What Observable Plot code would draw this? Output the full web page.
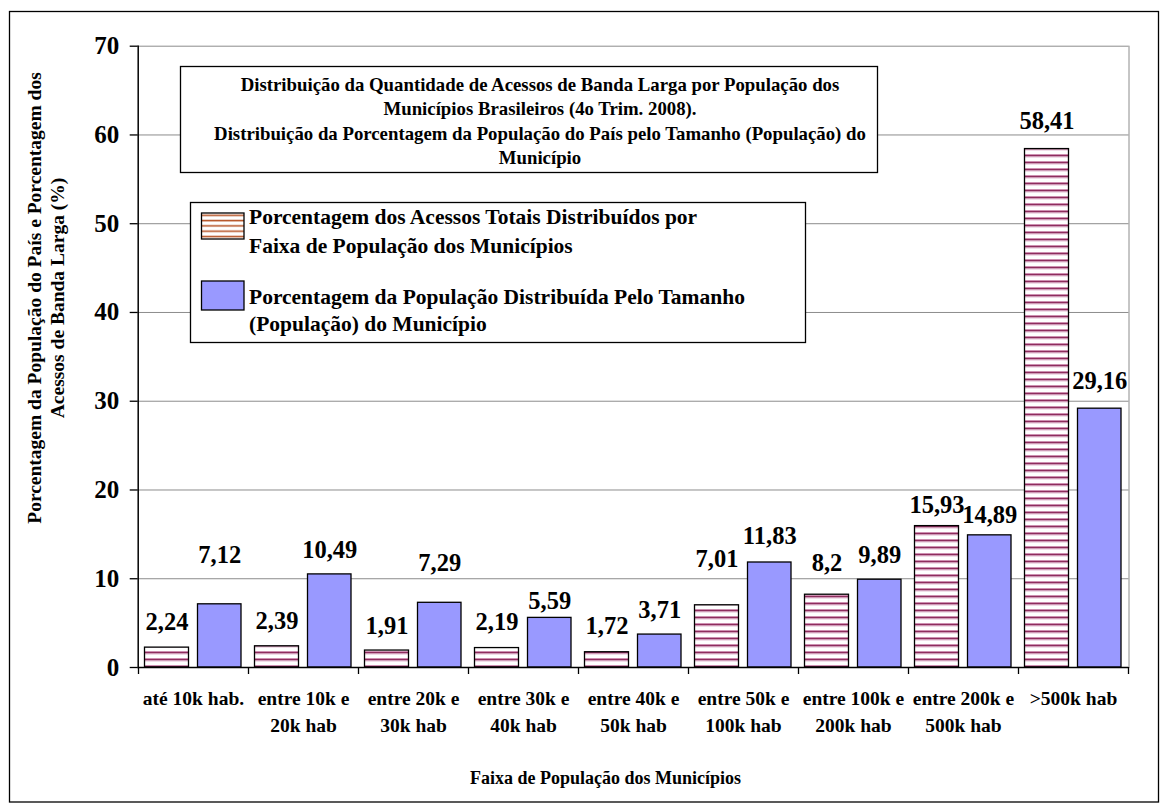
<!DOCTYPE html>
<html>
<head>
<meta charset="utf-8">
<script src="https://cdn.jsdelivr.net/npm/d3@7"></script>
<script src="https://cdn.jsdelivr.net/npm/@observablehq/plot@0.6"></script>
<style>
  body { margin: 0; background: #fff; }
  #chart { position: relative; width: 1160px; height: 803px; }
  #chart svg text { font-family: "Liberation Serif", "Times New Roman", serif; font-weight: bold; }
</style>
</head>
<body>
<div id="chart"></div>
<script>
// ---- data ----
const categories = [
  "até 10k hab.", "entre 10k e 20k hab", "entre 20k e 30k hab", "entre 30k e 40k hab",
  "entre 40k e 50k hab", "entre 50k e 100k hab", "entre 100k e 200k hab",
  "entre 200k e 500k hab", ">500k hab"
];
const categoryLabels = [
  "até 10k hab.", "entre 10k e\n20k hab", "entre 20k e\n30k hab", "entre 30k e\n40k hab",
  "entre 40k e\n50k hab", "entre 50k e\n100k hab", "entre 100k e\n200k hab",
  "entre 200k e\n500k hab", ">500k hab"
];
const acessos   = [2.24, 2.39, 1.91, 2.19, 1.72, 7.01, 8.2, 15.93, 58.41];
const populacao = [7.12, 10.49, 7.29, 5.59, 3.71, 11.83, 9.89, 14.89, 29.16];
// heights (in % units) at which the data labels sit in the original
const acessosLabelAt   = [5.07, 5.18, 4.62, 5.07, 4.62, 12.2, 11.8, 18.3, 61.6];
const populacaoLabelAt = [12.7, 13.2, 11.8, 7.44, 6.42, 14.8, 12.7, 17.2, 32.3];
const yTicks = [0, 10, 20, 30, 40, 50, 60, 70];

const titleLines = [
  "Distribuição da Quantidade de Acessos de Banda Larga por População dos",
  "Municípios Brasileiros (4o Trim. 2008).",
  "Distribuição da Porcentagem da População do País pelo Tamanho (População) do",
  "Município"
];
const legendAcessos = ["Porcentagem dos Acessos Totais Distribuídos por", "Faixa de População dos Municípios"];
const legendPopulacao = ["Porcentagem da População Distribuída Pelo Tamanho", "(População) do Município"];
const yTitle = ["Porcentagem da População do País e Porcentagem dos", "Acessos de Banda Larga (%)"];
const xTitle = "Faixa de População dos Municípios";

// ---- build ----
const serif = "'Liberation Serif', 'Times New Roman', serif";
const rows = categories.map((c, i) => ({
  cat: c, label: categoryLabels[i],
  acc: acessos[i], pop: populacao[i],
  accAt: acessosLabelAt[i], popAt: populacaoLabelAt[i]
}));
const fmt = v => String(v).replace(".", ",");
const blue = "#9999FF";
const grid = "#8c8c8c";

const plot = Plot.plot({
  width: 1160, height: 803,
  marginLeft: 137.7, marginRight: 31.5, marginTop: 45.7, marginBottom: 136,
  style: { fontFamily: serif, background: "transparent", overflow: "visible" },
  x: { domain: categories, padding: 0, axis: null },
  y: { domain: [0, 70], axis: null },
  marks: [
    Plot.gridY(yTicks.filter(t => t > 0), { stroke: grid, strokeOpacity: 1, strokeWidth: 1 }),
    Plot.frame({ anchor: "right", stroke: grid, strokeWidth: 1 }),
    Plot.rectY(rows, { x: "cat", y: "acc", fill: "url(#stripes)", stroke: "#000", strokeWidth: 1.3, insetLeft: 6.5, insetRight: 59.5 }),
    Plot.rectY(rows, { x: "cat", y: "pop", fill: blue, stroke: "#000", strokeWidth: 1.3, insetLeft: 59.5, insetRight: 7 }),
    Plot.ruleY([0], { stroke: "#000", strokeWidth: 1.5 }),
    Plot.frame({ anchor: "left", stroke: "#000", strokeWidth: 1.5 }),
    Plot.axisY({ ticks: yTicks, tickSize: 8, tickPadding: 11, fontSize: 25, fontWeight: "bold", label: null, stroke: "#000", strokeWidth: 1.3 }),
    Plot.ruleX(rows, { x: "cat", y1: 0, y2: 0, insetBottom: -7, dx: -55, stroke: "#000", strokeWidth: 1.3 }),
    Plot.ruleX(rows.slice(-1), { x: "cat", y1: 0, y2: 0, insetBottom: -7, dx: 55, stroke: "#000", strokeWidth: 1.3 }),
    Plot.text(rows, { x: "cat", text: "label", frameAnchor: "bottom", lineAnchor: "top", dy: 18, lineHeight: 1.38, fontSize: 19.5, fontWeight: "bold" }),
    Plot.text(rows, { x: "cat", y: "accAt", text: d => fmt(d.acc), dx: -26.5, fontSize: 24.5, fontWeight: "bold" }),
    Plot.text(rows, { x: "cat", y: "popAt", text: d => fmt(d.pop), dx: 26.25, fontSize: 24.5, fontWeight: "bold" })
  ]
});

const svg = d3.select(plot);
const defs = svg.insert("defs", ":first-child");
const p1 = defs.append("pattern").attr("id", "stripes").attr("patternUnits", "userSpaceOnUse")
  .attr("width", 8).attr("height", 7);
p1.append("rect").attr("width", 8).attr("height", 7).attr("fill", "#fff");
p1.append("rect").attr("y", 0).attr("width", 8).attr("height", 0.9).attr("fill", "#cf8fb3");
p1.append("rect").attr("y", 0.9).attr("width", 8).attr("height", 1.5).attr("fill", "#8e2d5e");
p1.append("rect").attr("y", 2.4).attr("width", 8).attr("height", 0.9).attr("fill", "#cf8fb3");
const p2 = defs.append("pattern").attr("id", "stripesLegend").attr("patternUnits", "userSpaceOnUse")
  .attr("width", 8).attr("height", 5.3).attr("y", 213);
p2.append("rect").attr("width", 8).attr("height", 5.3).attr("fill", "#fff");
p2.append("rect").attr("y", 1.5).attr("width", 8).attr("height", 1.6).attr("fill", "#b8582c");

// outer border
svg.insert("rect", "defs + *").attr("x", 9.5).attr("y", 11.5).attr("width", 1149).attr("height", 790.5)
  .attr("fill", "none").attr("stroke", "#000").attr("stroke-width", 1.3);

const g = svg.append("g").attr("font-family", serif).attr("font-weight", "bold").attr("fill", "#000");

// title box
g.append("rect").attr("x", 180.5).attr("y", 66.5).attr("width", 697).attr("height", 106)
  .attr("fill", "#fff").attr("stroke", "#000").attr("stroke-width", 1.3);
const titleY = [84, 108, 133, 157];
titleLines.forEach((t, i) => g.append("text").attr("x", 540).attr("y", titleY[i])
  .attr("text-anchor", "middle").attr("dominant-baseline", "central").attr("font-size", 18.8).text(t));

// legend box
g.append("rect").attr("x", 190.5).attr("y", 202.5).attr("width", 615).attr("height", 140)
  .attr("fill", "#fff").attr("stroke", "#000").attr("stroke-width", 1.3);
g.append("rect").attr("x", 201.5).attr("y", 213).attr("width", 42.5).attr("height", 26)
  .attr("fill", "url(#stripesLegend)").attr("stroke", "#000").attr("stroke-width", 1.3);
g.append("rect").attr("x", 201.5).attr("y", 281).attr("width", 42.5).attr("height", 29)
  .attr("fill", blue).attr("stroke", "#000").attr("stroke-width", 1.3);
const legY = [217, 246, 297, 324];
[...legendAcessos, ...legendPopulacao].forEach((t, i) => g.append("text").attr("x", 249).attr("y", legY[i])
  .attr("text-anchor", "start").attr("dominant-baseline", "central").attr("font-size", 21.5).text(t));

// y title
yTitle.forEach((t, i) => g.append("text").attr("transform", `translate(${[34, 57][i]},298) rotate(-90)`)
  .attr("text-anchor", "middle").attr("dominant-baseline", "central").attr("font-size", 19.5).text(t));

// x title
g.append("text").attr("x", 470).attr("y", 778).attr("text-anchor", "start")
  .attr("dominant-baseline", "central").attr("font-size", 18).text(xTitle);

document.getElementById("chart").append(plot);
</script>
</body>
</html>
